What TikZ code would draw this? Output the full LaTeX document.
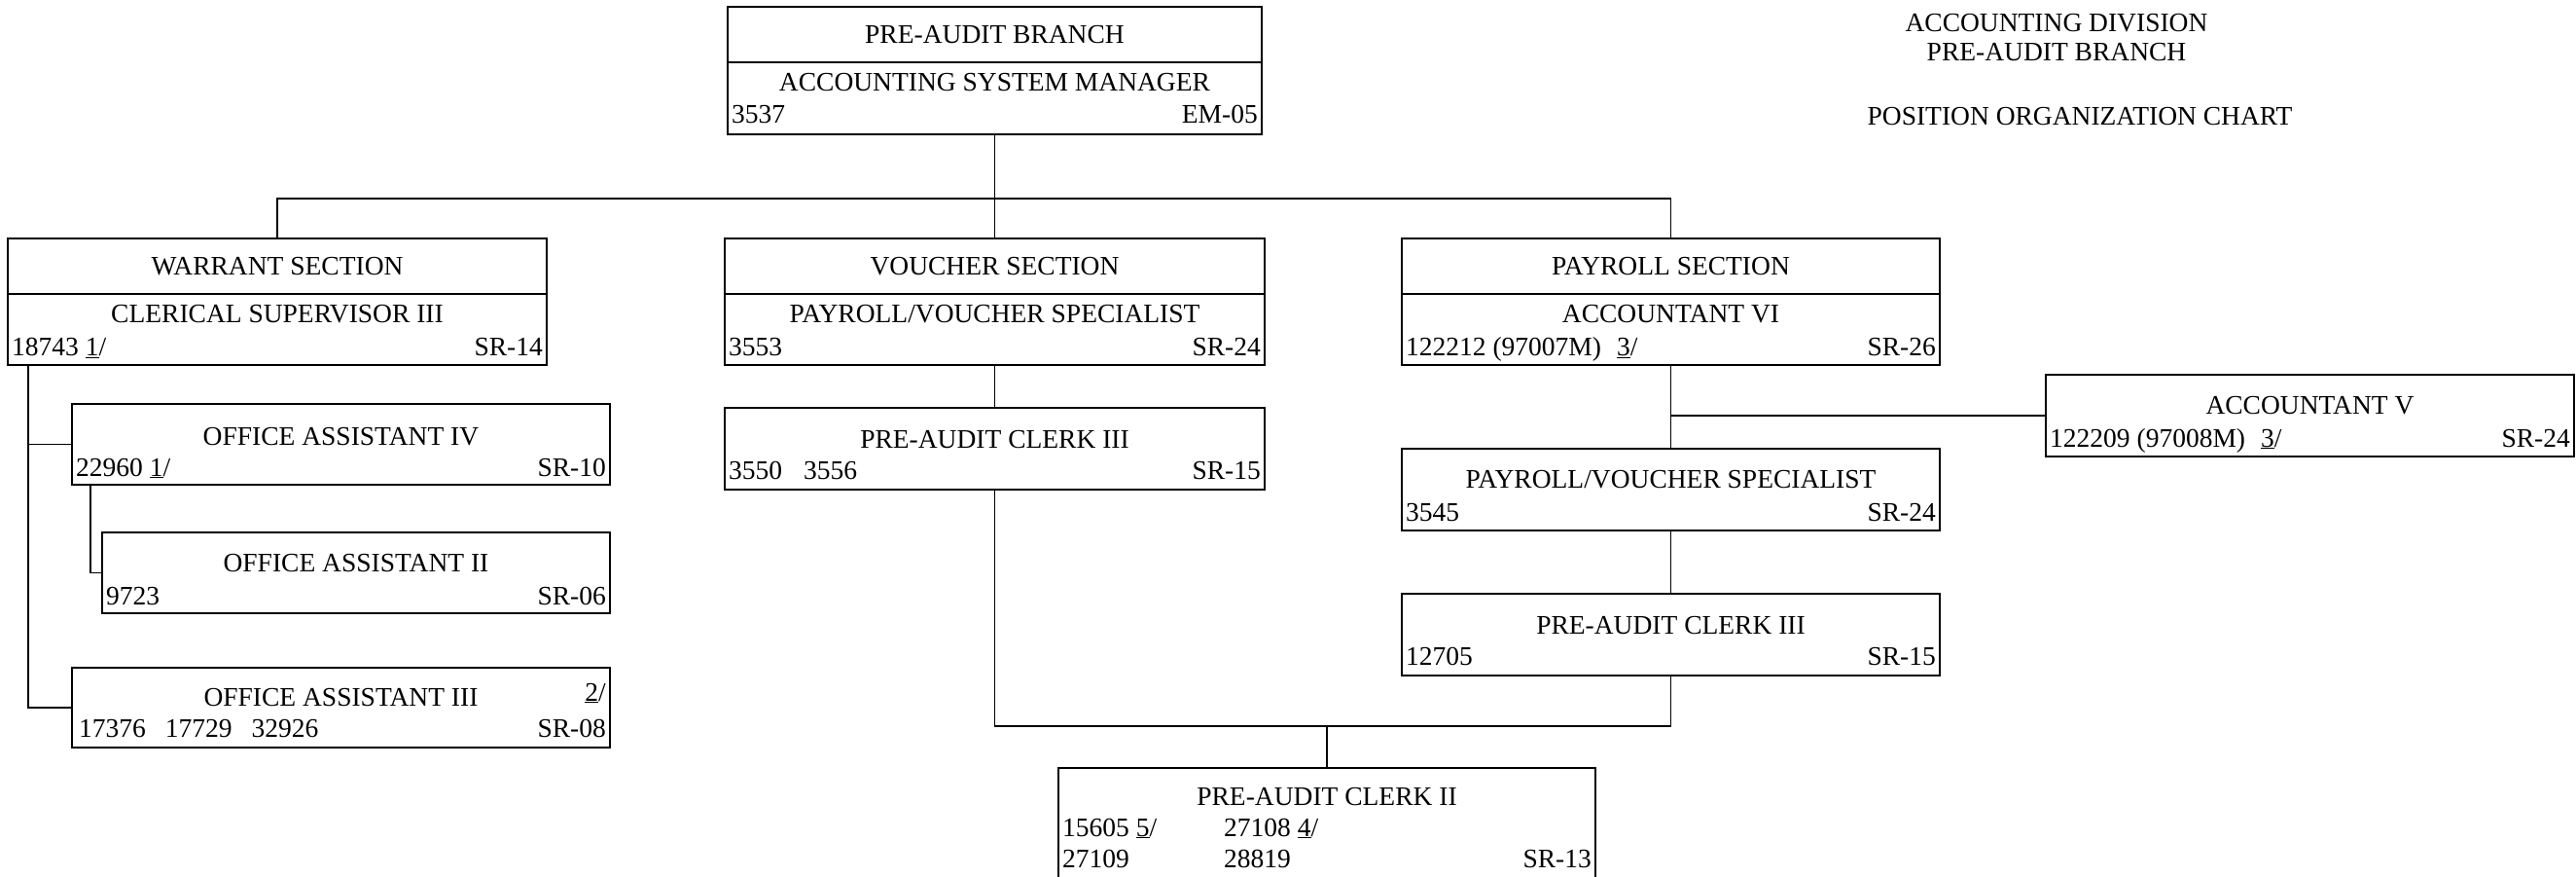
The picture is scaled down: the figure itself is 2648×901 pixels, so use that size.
\documentclass[tikz,border=0pt]{standalone}
\usepackage{fontspec}
\setmainfont{Liberation Serif}
\newcommand{\chartfont}{\fontsize{27.5}{33}\selectfont}
\begin{document}
\begin{tikzpicture}[x=1pt,y=-1pt,
  box/.style={draw, line width=1.7pt, anchor=north west, inner sep=0pt, outer sep=0pt},
  ln/.style={line width=1.7pt},
  ctxt/.style={anchor=base, inner sep=0pt, font=\chartfont},
  ltxt/.style={anchor=base west, inner sep=0pt, font=\chartfont},
  rtxt/.style={anchor=base east, inner sep=0pt, font=\chartfont}]
\useasboundingbox (0,0) rectangle (2648,901);

% ---- boxes ----
\node[box, minimum width=549pt, minimum height=131pt] (top) at (748,7) {};
\node[box, minimum width=554pt, minimum height=130pt] (warrant) at (8,245) {};
\node[box, minimum width=555pt, minimum height=130pt] (voucher) at (745,245) {};
\node[box, minimum width=553pt, minimum height=130pt] (payroll) at (1441,245) {};
\node[box, minimum width=553pt, minimum height=83pt] (oa4) at (74,415) {};
\node[box, minimum width=522pt, minimum height=83pt] (oa2) at (105,547) {};
\node[box, minimum width=553pt, minimum height=82pt] (oa3) at (74,686) {};
\node[box, minimum width=555pt, minimum height=84pt] (vpac3) at (745,419) {};
\node[box, minimum width=543pt, minimum height=84pt] (acctv) at (2103,385) {};
\node[box, minimum width=553pt, minimum height=84pt] (ppvs) at (1441,461) {};
\node[box, minimum width=553pt, minimum height=84pt] (ppac3) at (1441,610) {};
\node[box, minimum width=552pt, minimum height=131pt] (pac2) at (1088,789) {};

% ---- dividers ----
\draw[ln] (top.west |- 0,64) -- (top.east |- 0,64);
\draw[ln] (warrant.west |- 0,302) -- (warrant.east |- 0,302);
\draw[ln] (voucher.west |- 0,302) -- (voucher.east |- 0,302);
\draw[ln] (payroll.west |- 0,302) -- (payroll.east |- 0,302);

% ---- texts ----
\node[ctxt] (top-a) at (1022.5,45) {PRE-AUDIT BRANCH};
\node[ctxt] (top-b) at (1022.5,94) {ACCOUNTING SYSTEM MANAGER};
\node[ltxt] (top-c) at (752,127) {3537};
\node[rtxt] (top-d) at (1293,127) {EM-05};

\node[ctxt] (war-a) at (285,283) {WARRANT SECTION};
\node[ctxt] (war-b) at (285,332) {CLERICAL SUPERVISOR III};
\node[ltxt] (war-c) at (12,366) {18743 \underline{1}/};
\node[rtxt] (war-d) at (558,366) {SR-14};

\node[ctxt] (vou-a) at (1022.5,283) {VOUCHER SECTION};
\node[ctxt] (vou-b) at (1022.5,332) {PAYROLL/VOUCHER SPECIALIST};
\node[ltxt] (vou-c) at (749,366) {3553};
\node[rtxt] (vou-d) at (1296,366) {SR-24};

\node[ctxt] (pay-a) at (1717.5,283) {PAYROLL SECTION};
\node[ctxt] (pay-b) at (1717.5,332) {ACCOUNTANT VI};
\node[ltxt] (pay-c) at (1445,366) {122212 (97007M)\hspace{16pt}\underline{3}/};
\node[rtxt] (pay-d) at (1990,366) {SR-26};

\node[ctxt] (oa4-a) at (350.5,457) {OFFICE ASSISTANT IV};
\node[ltxt] (oa4-b) at (78,489) {22960 \underline{1}/};
\node[rtxt] (oa4-c) at (623,489) {SR-10};

\node[ctxt] (oa2-a) at (366,587) {OFFICE ASSISTANT II};
\node[ltxt] (oa2-b) at (109,621) {9723};
\node[rtxt] (oa2-c) at (623,621) {SR-06};

\node[ctxt] (oa3-a) at (350.5,725) {OFFICE ASSISTANT III};
\node[rtxt] (oa3-n) at (623,720) {\underline{2}/};
\node[ltxt] (oa3-b) at (81,757) {17376\hspace{20pt}17729\hspace{20pt}32926};
\node[rtxt] (oa3-c) at (623,757) {SR-08};

\node[ctxt] (vp3-a) at (1022.5,460) {PRE-AUDIT CLERK III};
\node[ltxt] (vp3-b) at (749,492) {3550\hspace{22pt}3556};
\node[rtxt] (vp3-c) at (1296,492) {SR-15};

\node[ctxt] (acv-a) at (2374.5,425) {ACCOUNTANT V};
\node[ltxt] (acv-b) at (2107,459) {122209 (97008M)\hspace{16pt}\underline{3}/};
\node[rtxt] (acv-c) at (2642,459) {SR-24};

\node[ctxt] (pvs-a) at (1717.5,501) {PAYROLL/VOUCHER SPECIALIST};
\node[ltxt] (pvs-b) at (1445,535) {3545};
\node[rtxt] (pvs-c) at (1990,535) {SR-24};

\node[ctxt] (pp3-a) at (1717.5,651) {PRE-AUDIT CLERK III};
\node[ltxt] (pp3-b) at (1445,683) {12705};
\node[rtxt] (pp3-c) at (1990,683) {SR-15};

\node[ctxt] (pc2-a) at (1364,827) {PRE-AUDIT CLERK II};
\node[ltxt] (pc2-b) at (1092,859) {15605 \underline{5}/};
\node[ltxt] (pc2-c) at (1258,859) {27108 \underline{4}/};
\node[ltxt] (pc2-d) at (1092,891) {27109};
\node[ltxt] (pc2-e) at (1258,891) {28819};
\node[rtxt] (pc2-f) at (1636,891) {SR-13};

\node[ctxt] (title1) at (2114,33) {ACCOUNTING DIVISION};
\node[ctxt] (title2) at (2114,63) {PRE-AUDIT BRANCH};
\node[ctxt] (title3) at (2138,129) {POSITION ORGANIZATION CHART};

% ---- connectors ----
\coordinate (j1) at (top.south |- 0,204);
\draw[ln] (top.south) -- (j1);
\draw[ln] (warrant.north) |- (j1) -| (payroll.north);
\draw[ln] (j1) -- (voucher.north);

\draw[ln] ([xshift=21pt]warrant.south west) |- (oa3.west);
\draw[ln] ([xshift=21pt]warrant.south west |- oa4.west) -- (oa4.west);
\draw[ln] ([xshift=19pt]oa4.south west) |- (oa2.west);

\draw[ln] (voucher.south) -- (vpac3.north);
\coordinate (j2) at (pac2.north |- 0,746);
\draw[ln] (vpac3.south) |- (ppac3.south |- j2) -- (ppac3.south);
\draw[ln] (j2) -- (pac2.north);

\draw[ln] (payroll.south) -- (ppvs.north);
\draw[ln] (payroll.south |- acctv.west) -- (acctv.west);
\draw[ln] (ppvs.south) -- (ppac3.north);
\end{tikzpicture}
\end{document}
